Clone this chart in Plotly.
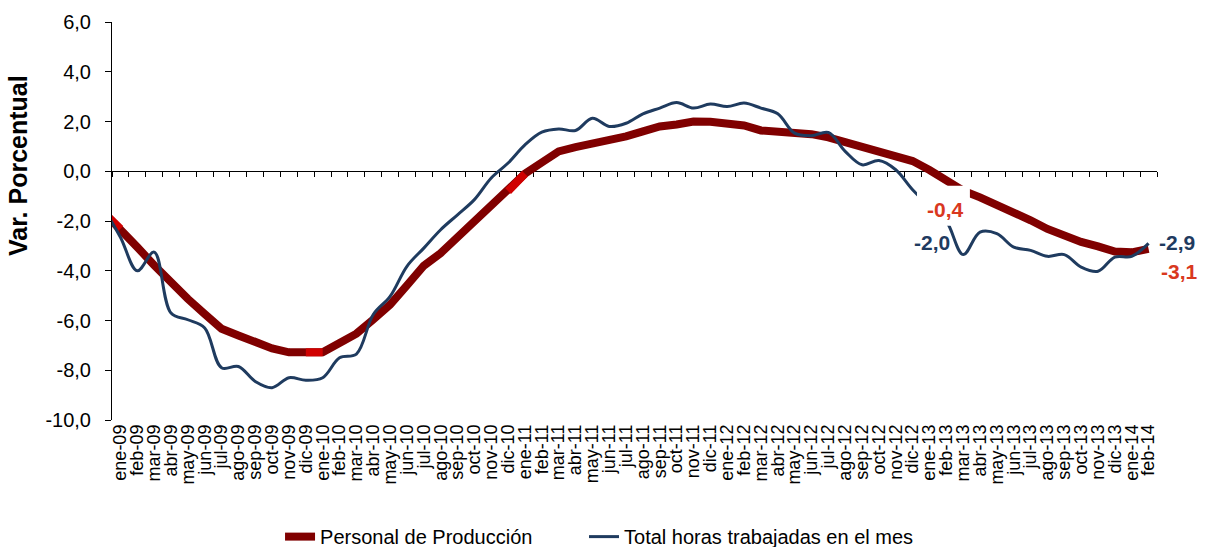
import plotly.graph_objects as go

# ---------------- data ----------------
meses = [
    "dic-08",
    "ene-09", "feb-09", "mar-09", "abr-09", "may-09", "jun-09",
    "jul-09", "ago-09", "sep-09", "oct-09", "nov-09", "dic-09",
    "ene-10", "feb-10", "mar-10", "abr-10", "may-10", "jun-10",
    "jul-10", "ago-10", "sep-10", "oct-10", "nov-10", "dic-10",
    "ene-11", "feb-11", "mar-11", "abr-11", "may-11", "jun-11",
    "jul-11", "ago-11", "sep-11", "oct-11", "nov-11", "dic-11",
    "ene-12", "feb-12", "mar-12", "abr-12", "may-12", "jun-12",
    "jul-12", "ago-12", "sep-12", "oct-12", "nov-12", "dic-12",
    "ene-13", "feb-13", "mar-13", "abr-13", "may-13", "jun-13",
    "jul-13", "ago-13", "sep-13", "oct-13", "nov-13", "dic-13",
    "ene-14", "feb-14",
]

personal_produccion = [
    -1.65,
    -2.32, -3.05, -3.78, -4.50, -5.13, -5.74,
    -6.33, -6.60, -6.88, -7.12, -7.28, -7.28,
    -7.28, -6.90, -6.53, -5.96, -5.36, -4.59,
    -3.80, -3.29, -2.67, -2.04, -1.43, -0.80,
    -0.10, 0.35, 0.80, 0.97, 1.10, 1.24,
    1.40, 1.60, 1.80, 1.88, 2.00, 1.99,
    1.92, 1.84, 1.64, 1.61, 1.56, 1.49,
    1.36, 1.17, 0.97, 0.78, 0.61, 0.41,
    0.05, -0.40, -0.78, -1.05, -1.33, -1.63,
    -1.97, -2.32, -2.59, -2.84, -3.02, -3.23,
    -3.26, -3.12,
]

horas_trabajadas = [
    -1.50,
    -2.65, -4.00, -3.25, -5.70, -5.97, -6.30,
    -7.90, -7.85, -8.45, -8.70, -8.30, -8.40,
    -8.30, -7.50, -7.35, -5.76, -5.03, -3.82,
    -3.09, -2.35, -1.75, -1.14, -0.27, 0.33,
    1.06, 1.57, 1.70, 1.64, 2.13, 1.80,
    1.93, 2.31, 2.54, 2.76, 2.54, 2.70,
    2.60, 2.74, 2.54, 2.31, 1.53, 1.43,
    1.56, 0.80, 0.26, 0.43, 0.06, -0.74,
    -1.40, -2.00, -3.35, -2.45, -2.51, -3.05,
    -3.18, -3.42, -3.35, -3.85, -4.02, -3.45,
    -3.42, -2.90,
]

# segments (dic -> ene) highlighted in bright red in the original
tramos_destacados = [("dic-08", "ene-09"), ("dic-09", "ene-10"), ("dic-10", "ene-11")]

y_tickvals = [-10, -8, -6, -4, -2, 0, 2, 4, 6]
y_ticktext = ["-10,0", "-8,0", "-6,0", "-4,0", "-2,0", "0,0", "2,0", "4,0", "6,0"]

# ---------------- style ----------------
FONT = "Liberation Sans, Arial, sans-serif"
DARK_RED = "#800000"
BRIGHT_RED = "#D00000"
NAVY = "#1F3B5F"
LABEL_RED = "#D9381E"


def fmt(v):
    return f"{v:.1f}".replace(".", ",")


fig = go.Figure()

fig.add_trace(go.Scatter(
    x=meses, y=personal_produccion, mode="lines",
    name="Personal de Producción", legend="legend",
    line=dict(color=DARK_RED, width=8),
    hoverinfo="skip",
))

for a, b in tramos_destacados:
    i0, i1 = meses.index(a), meses.index(b) + 1
    fig.add_trace(go.Scatter(
        x=meses[i0:i1], y=personal_produccion[i0:i1], mode="lines",
        line=dict(color=BRIGHT_RED, width=8),
        showlegend=False, hoverinfo="skip",
    ))

fig.add_trace(go.Scatter(
    x=meses, y=horas_trabajadas, mode="lines",
    name="Total horas trabajadas en el mes", legend="legend2",
    line=dict(color=NAVY, width=3, shape="spline", smoothing=1),
    hoverinfo="skip",
))

# dummy trace to activate the axis drawn at y = 0
fig.add_trace(go.Scatter(x=[None], y=[None], xaxis="x2", yaxis="y",
                         showlegend=False, hoverinfo="skip"))

n = len(meses)
x_range = [0.5, n - 0.5]

# white box behind the "-0,4" label (covers the lines like in the original)
fig.add_shape(type="rect", xref="x", yref="y",
              x0=48.26, x1=51.4, y0=-2.19, y1=-0.58,
              fillcolor="white", line=dict(width=0), layer="above")

i_lab = meses.index("feb-13")
i_end = meses.index("feb-14")
ann_font = dict(family=FONT, size=21)
fig.add_annotation(x=49.95, y=-1.53, xref="x", yref="y",
                   xanchor="center", yanchor="middle",
                   text=f"<b>{fmt(personal_produccion[i_lab])}</b>",
                   showarrow=False, font=dict(ann_font, color=LABEL_RED))
fig.add_annotation(x=49.15, y=-2.87, xref="x", yref="y",
                   xanchor="center", yanchor="middle",
                   text=f"<b>{fmt(horas_trabajadas[i_lab])}</b>",
                   showarrow=False, font=dict(ann_font, color=NAVY))
fig.add_annotation(x=1.0191, y=0.4472, xref="paper", yref="paper",
                   xanchor="center", yanchor="middle",
                   text=f"<b>{fmt(horas_trabajadas[i_end])}</b>",
                   showarrow=False, font=dict(ann_font, color=NAVY))
fig.add_annotation(x=1.022, y=0.3719, xref="paper", yref="paper",
                   xanchor="center", yanchor="middle",
                   text=f"<b>{fmt(personal_produccion[i_end])}</b>",
                   showarrow=False, font=dict(ann_font, color=LABEL_RED))

# y axis title
fig.add_annotation(x=-0.09, y=0.6407, xref="paper", yref="paper",
                   text="<b>Var. Porcentual</b>", textangle=-90,
                   showarrow=False, xanchor="center", yanchor="middle",
                   font=dict(family=FONT, size=25, color="black"))

legend_common = dict(orientation="h", xanchor="left", y=-0.293, yanchor="middle",
                     font=dict(family=FONT, size=20, color="black"),
                     bgcolor="rgba(0,0,0,0)")

fig.update_layout(
    width=1210, height=547, autosize=False,
    margin=dict(l=112, r=53, t=22, b=127, autoexpand=False),
    paper_bgcolor="white", plot_bgcolor="white",
    font=dict(family=FONT, color="black"),
    showlegend=True,
    legend=dict(legend_common, x=0.1608),
    legend2=dict(legend_common, x=0.4517),
    xaxis=dict(
        type="category", categoryorder="array", categoryarray=meses,
        range=x_range, tickmode="array", tickvals=meses[1:], ticktext=meses[1:],
        tickangle=-90, ticks="", showline=False, showgrid=False, zeroline=False,
        tickfont=dict(family=FONT, size=18, color="black"),
    ),
    xaxis2=dict(
        overlaying="x", anchor="free", position=0.625, side="bottom",
        type="linear", range=x_range,
        tickmode="array", tickvals=[k + 0.5 for k in range(n)],
        ticks="outside", ticklen=5, tickcolor="black", tickwidth=1,
        showticklabels=False, showline=True, linecolor="black", linewidth=1,
        showgrid=False, zeroline=False, layer="below traces",
    ),
    yaxis=dict(
        range=[-10, 6], tickmode="array", tickvals=y_tickvals, ticktext=y_ticktext,
        ticks="outside", ticklen=6, tickcolor="black", tickwidth=1,
        showline=True, linecolor="black", linewidth=1,
        showgrid=False, zeroline=False,
        tickfont=dict(family=FONT, size=20, color="black"),
        ticklabelstandoff=10,
    ),
)

fig.write_html("out.html", config={"displayModeBar": False},
               post_script="document.body.style.margin='0';")
